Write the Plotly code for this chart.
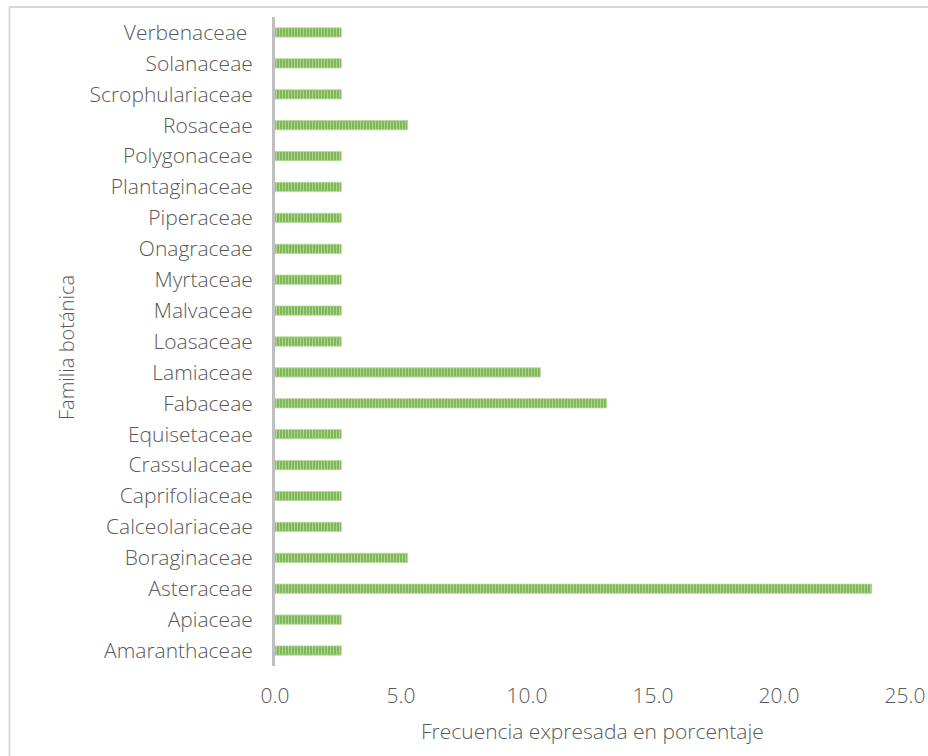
import plotly.graph_objects as go

# Botanical families (bottom to top) and their relative frequency (%)
familias = [
    "Amaranthaceae", "Apiaceae", "Asteraceae", "Boraginaceae", "Calceolariaceae",
    "Caprifoliaceae", "Crassulaceae", "Equisetaceae", "Fabaceae", "Lamiaceae",
    "Loasaceae", "Malvaceae", "Myrtaceae", "Onagraceae", "Piperaceae",
    "Plantaginaceae", "Polygonaceae", "Rosaceae", "Scrophulariaceae",
    "Solanaceae", "Verbenaceae ",
]
frecuencia = [
    2.63, 2.63, 23.68, 5.26, 2.63,
    2.63, 2.63, 2.63, 13.16, 10.53,
    2.63, 2.63, 2.63, 2.63, 2.63,
    2.63, 2.63, 5.26, 2.63,
    2.63, 2.63,
]
x_ticks = [0, 5, 10, 15, 20, 25]

FONT = "Open Sans"
WEIGHT = 350
TEXT = "#595959"

fig = go.Figure(
    go.Bar(
        x=frecuencia,
        y=familias,
        orientation="h",
        width=0.3,
        marker=dict(
            color="#76b14d",
            line=dict(color="#b4d99b", width=0.8),
            pattern=dict(
                shape="|",
                bgcolor="#76b14d",
                fgcolor="#acd68f",
                size=3,
                solidity=0.45,
                fillmode="replace",
            ),
        ),
        hoverinfo="x+y",
    )
)

L, R, T, B = 275, 23, 17, 90
plot_w = 928 - L - R
plot_h = 756 - T - B


def px_to_paper_x(px):
    return (px - L) / plot_w


def px_to_paper_y(py):
    return (756 - B - py) / plot_h


font_ticks = dict(family=FONT, size=21, color=TEXT, weight=WEIGHT)
font_title = dict(family=FONT, size=21, color=TEXT, weight=WEIGHT)
font_ytitle = dict(family=FONT, size=20, color=TEXT, weight=WEIGHT)

fig.update_layout(
    width=928,
    height=756,
    margin=dict(l=L, r=R, t=T, b=B, autoexpand=False),
    paper_bgcolor="white",
    plot_bgcolor="white",
    showlegend=False,
    font=font_ticks,
    xaxis=dict(
        range=[0, 25],
        tickvals=x_ticks,
        tickformat=".1f",
        showgrid=False,
        zeroline=False,
        showline=False,
        ticks="",
        ticklabelstandoff=15,
        tickfont=font_ticks,
        automargin=False,
        fixedrange=True,
    ),
    yaxis=dict(
        type="category",
        categoryorder="array",
        categoryarray=familias,
        showgrid=False,
        zeroline=False,
        showline=True,
        linecolor="#bfbfbf",
        linewidth=3,
        ticks="",
        ticklabelstandoff=15,
        tickfont=font_ticks,
        automargin=False,
        fixedrange=True,
    ),
    annotations=[
        dict(
            text="Frecuencia expresada en porcentaje",
            xref="paper", yref="paper",
            x=px_to_paper_x(592), y=px_to_paper_y(731),
            xanchor="center", yanchor="middle",
            showarrow=False,
            font=font_title,
        ),
        dict(
            text="Familia botánica",
            xref="paper", yref="paper",
            x=px_to_paper_x(66), y=px_to_paper_y(348),
            xanchor="center", yanchor="middle",
            textangle=-90,
            showarrow=False,
            font=font_ytitle,
        ),
    ],
    shapes=[
        dict(
            type="rect",
            xref="paper", yref="paper",
            x0=px_to_paper_x(9.5), x1=px_to_paper_x(960),
            y0=px_to_paper_y(790), y1=px_to_paper_y(7),
            line=dict(color="#d9d9d9", width=2),
            fillcolor="rgba(0,0,0,0)",
            layer="below",
        )
    ],
)

fig.write_html("out.html")
